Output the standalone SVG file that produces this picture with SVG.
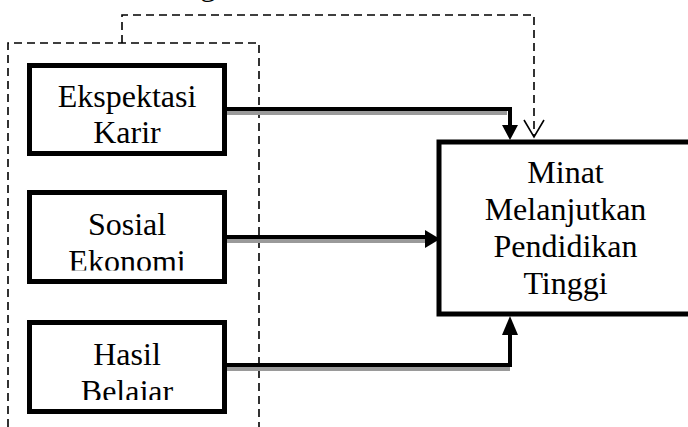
<svg xmlns="http://www.w3.org/2000/svg" width="688" height="427" viewBox="0 0 688 427">
<style>
.box{fill:#fff;stroke:#000;stroke-width:5}
.t{font-family:"Liberation Serif","Times New Roman",serif;font-size:32px;fill:#000;text-anchor:middle}
.dash{fill:none;stroke:#000;stroke-width:1.6;stroke-dasharray:8 5}
.ln{fill:none;stroke:#000;stroke-width:4}
.sh{fill:none;stroke:#9a9a9a;stroke-width:4}
</style>
<defs>
<clipPath id="c2"><rect x="30" y="193" width="195" height="77.5"/></clipPath>
<clipPath id="c3"><rect x="30" y="323" width="195" height="77"/></clipPath>
</defs>
<rect width="688" height="427" fill="#fff"/>
<text class="t" x="208" y="-5">g</text>
<g id="frame">
<path class="dash" d="M8,427 V43 H259 V427"/>
</g>
<g id="box1">
<rect class="box" x="29.5" y="65.5" width="195" height="88"/>
<text class="t" x="127" y="107">Ekspektasi</text>
<text class="t" x="127" y="143">Karir</text>
</g>
<g id="box2">
<rect class="box" x="29.5" y="192.5" width="195" height="89"/>
<g clip-path="url(#c2)">
<text class="t" x="127" y="235">Sosial</text>
<text class="t" x="127" y="272">Ekonomi</text>
</g>
</g>
<g id="box3">
<rect class="box" x="29.5" y="322.5" width="195" height="89"/>
<g clip-path="url(#c3)">
<text class="t" x="127" y="365">Hasil</text>
<text class="t" x="127" y="402">Belajar</text>
</g>
</g>
<g id="target">
<rect class="box" x="439" y="142" width="253" height="172"/>
<text class="t" x="565.5" y="183">Minat</text>
<text class="t" x="565.5" y="220">Melanjutkan</text>
<text class="t" x="565.5" y="257">Pendidikan</text>
<text class="t" x="565.5" y="294">Tinggi</text>
</g>
<g id="connectors">
<path class="sh" d="M227,113 H507"/>
<path class="ln" d="M227,109 H510 V127"/>
<polygon points="502,125 518,125 510,140"/>
<path class="sh" d="M227,241 H428"/>
<path class="ln" d="M227,237 H428"/>
<polygon points="425,230 440,239 425,248"/>
<path class="sh" d="M227,369 H510"/>
<path class="ln" d="M227,365 H510 V333"/>
<polygon points="502,335 518,335 510,316"/>
<path class="dash" d="M122,43 V15 H534 V136"/>
<path d="M524,120 L534,137 L544,120" fill="none" stroke="#000" stroke-width="1.6"/>
</g>
</svg>
